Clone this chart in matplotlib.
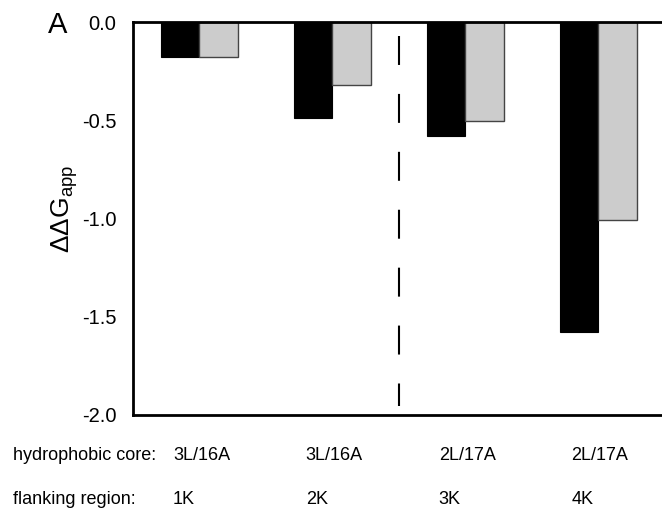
import numpy as np
import matplotlib
matplotlib.use("Agg")
import matplotlib.pyplot as plt

plt.rcParams['font.family'] = ['Liberation Sans', 'DejaVu Sans']
plt.rcParams['mathtext.fontset'] = 'custom'
plt.rcParams['mathtext.rm'] = 'Liberation Sans'

# data
groups = np.arange(4)
black_vals = [-0.18, -0.49, -0.58, -1.58]
grey_vals = [-0.18, -0.32, -0.505, -1.01]
core_labels = ['3L/16A', '3L/16A', '2L/17A', '2L/17A']
flank_labels = ['1K', '2K', '3K', '4K']
yticks = [0.0, -0.5, -1.0, -1.5, -2.0]

fig = plt.figure(figsize=(6.62, 5.08), dpi=100)
ax = fig.add_axes([133 / 662, 93 / 508, 529 / 662, 393 / 508])

w = 0.29
ax.bar(groups - w / 2, black_vals, width=w, color='black', edgecolor='black', linewidth=0.8)
ax.bar(groups + w / 2, grey_vals, width=w, color='#cccccc', edgecolor='#444444', linewidth=1.0)

# dashed separator between the two core types (drawn top-down so dashes start at the top)
ax.plot([1.5, 1.5], [-0.071, -1.954], color='black', linewidth=1.5,
        linestyle=(0, (13.9, 13.9)), solid_capstyle='butt', dash_capstyle='butt')

ax.set_xlim(-0.5, 3.48)
ax.set_ylim(-2.0, 0.0)
ax.set_yticks(yticks)
ax.set_yticklabels([f'{v:.1f}' for v in yticks], fontsize=14.5)
ax.set_xticks([])
ax.tick_params(axis='y', length=0, pad=12)

for s in ['left', 'top', 'bottom']:
    ax.spines[s].set_linewidth(2)
ax.spines['right'].set_visible(False)

ax.set_ylabel(r'ΔΔG$_{\mathrm{app}}$', fontsize=19)
ax.yaxis.set_label_coords(-0.1, 0.524)
fig.text(48 / 662, 1 - 25 / 508, 'A', fontsize=21, va='center', ha='left')

# category rows under the axis
row1 = 1 - 456 / 508
row2 = 1 - 499 / 508
fig.text(13 / 662, row1, 'hydrophobic core:', fontsize=13, va='center')
fig.text(13 / 662, row2, 'flanking region:', fontsize=13, va='center')
trans = matplotlib.transforms.blended_transform_factory(ax.transData, fig.transFigure)
for g, c, f in zip(groups, core_labels, flank_labels):
    ax.text(g - 0.2, row1, c, fontsize=13, va='center', ha='left', transform=trans)
    ax.text(g - 0.2, row2, f, fontsize=13, va='center', ha='left', transform=trans)

fig.savefig('out.png', dpi=100)
